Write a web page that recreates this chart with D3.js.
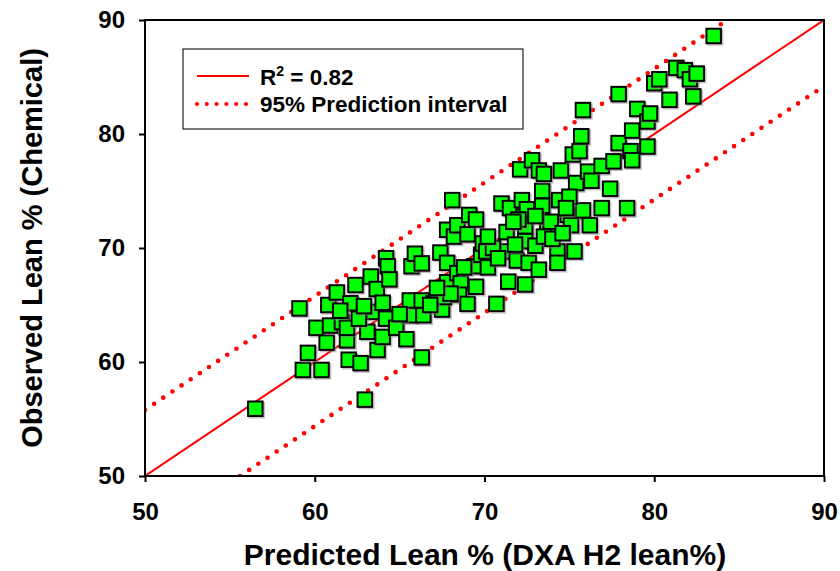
<!DOCTYPE html>
<html>
<head>
<meta charset="utf-8">
<script src="https://cdn.jsdelivr.net/npm/d3@7"></script>
<style>
  html, body { margin: 0; padding: 0; background: #fff; }
  svg { display: block; font-family: "Liberation Sans", Arial, sans-serif; }
</style>
</head>
<body>
<svg id="chart" width="840" height="571"></svg>
<script>
// ---- data ----
const predicted = [56.5,59.1,59.3,60.4,59.6,60.1,60.7,60.9,60.8,61.3,61.6,61.9,61.9,62.0,62.1,62.4,62.7,62.95,63.1,63.3,
  63.5,63.65,63.7,64.0,64.0,64.2,64.2,64.3,64.4,64.8,65.4,65.6,65.6,65.7,65.9,66.3,66.3,66.3,66.4,67.0,
  67.4,67.5,67.6,67.8,67.8,67.8,68.2,68.1,68.4,68.4,68.6,68.5,69.0,69.0,69.1,69.4,69.5,69.5,69.8,69.9,
  70.1,70.2,70.7,71.0,71.1,71.3,71.4,71.5,71.9,72.1,72.2,72.3,72.4,72.4,72.4,72.5,72.6,72.8,73.0,73.2,
  73.2,73.4,73.4,73.5,73.7,73.9,74.3,74.3,74.4,74.5,74.9,75.1,75.2,75.3,75.4,75.6,75.7,75.8,75.8,76.1,
  76.2,76.3,76.9,76.9,77.4,77.6,77.9,77.9,78.4,78.6,78.7,78.7,79.0,79.6,79.6,79.75,80.0,80.3,80.9,81.3,
  81.8,82.1,82.3,82.5,83.5,
  70.5,70.8,71.8,72.0,73.5,74.0,70.2,68.8,68.0,67.2,66.8,65.0,62.6,62.9,61.5,73.0,74.6,75.0,71.7,74.8];
const observed = [55.9,64.7,59.3,59.3,60.8,63.0,61.7,63.2,65.0,66.1,63.5,61.9,63.0,60.2,65.15,66.75,59.9,56.7,62.65,67.5,
  64.4,66.4,61.05,65.2,62.2,63.8,69.1,68.4,67.25,63.0,62.0,64.1,65.4,68.4,69.5,68.65,65.4,60.4,64.1,65.15,
  69.6,64.6,65.7,67.0,68.7,71.6,71.0,74.2,67.8,72.0,66.9,65.9,71.2,65.1,72.9,68.4,66.6,72.5,69.4,70.4,
  69.7,68.3,65.1,73.9,69.7,71.4,67.05,73.5,68.9,76.9,74.2,72.75,71.9,70.6,66.8,73.4,68.7,77.7,70.2,68.1,
  76.8,75.0,73.7,76.5,71.5,72.3,69.7,68.7,74.2,76.8,72.9,72.0,78.2,69.7,75.7,78.5,79.8,82.1,73.3,76.7,
  72.0,75.9,73.5,77.2,75.2,77.6,83.5,79.2,73.5,78.5,77.7,80.3,82.2,81.1,78.9,81.8,84.45,84.8,83.0,85.8,
  85.6,84.8,83.3,85.3,88.6,
  70.0,69.1,70.3,72.5,71.0,70.8,71.0,68.3,66.0,66.5,65.0,64.2,63.8,64.9,64.5,72.8,71.3,74.5,72.3,73.5];
const fitLine = [[50, 50], [90, 90]];
const upperPI = [[50, 55.8], [84.3, 90]];
const lowerPI = [[55.6, 50], [90, 84.2]];
const xTicks = [50, 60, 70, 80, 90];
const yTicks = [50, 60, 70, 80, 90];
const xTitle = "Predicted Lean % (DXA H2 lean%)";
const yTitle = "Observed Lean % (Chemical)";
const legendLabels = ["R", "95% Prediction interval"];

// ---- chart ----
const svg = d3.select("#chart");
const pLeft = 145, pRight = 824, pTop = 20, pBottom = 476;
const x = d3.scaleLinear().domain([50, 90]).range([pLeft, pRight]);
const y = d3.scaleLinear().domain([50, 90]).range([pBottom, pTop]);

svg.append("rect").attr("width", 840).attr("height", 571).attr("fill", "#fff");

const clip = svg.append("defs").append("clipPath").attr("id", "plotclip");
clip.append("rect").attr("x", pLeft).attr("y", pTop).attr("width", pRight - pLeft).attr("height", pBottom - pTop);

const line = d3.line().x(d => x(d[0])).y(d => y(d[1]));
const lines = svg.append("g").attr("clip-path", "url(#plotclip)");
lines.append("path").attr("d", line(fitLine)).attr("stroke", "#ff0000").attr("stroke-width", 2).attr("fill", "none");
[upperPI, lowerPI].forEach(seg => {
  lines.append("path").attr("d", line(seg)).attr("stroke", "#ff0000").attr("stroke-width", 4.6)
    .attr("stroke-linecap", "round").attr("stroke-dasharray", "0 11").attr("fill", "none");
});

// points
const pts = predicted.map((p, i) => [p, observed[i]]);
const s = 14.5;
const g = svg.append("g");
const pg = g.selectAll("g.pt").data(pts).enter().append("g").attr("class", "pt");
pg.append("rect")
  .attr("x", d => x(d[0]) - s / 2 + 1.5).attr("y", d => y(d[1]) - s / 2 + 1.5)
  .attr("width", s).attr("height", s).attr("fill", "#888").attr("opacity", 0.5)
  .attr("stroke", "#888").attr("stroke-width", 2);
pg.append("rect")
  .attr("x", d => x(d[0]) - s / 2).attr("y", d => y(d[1]) - s / 2)
  .attr("width", s).attr("height", s).attr("fill", "#00ff00")
  .attr("stroke", "#000").attr("stroke-width", 2);

// frame
svg.append("rect").attr("x", pLeft).attr("y", pTop).attr("width", pRight - pLeft).attr("height", pBottom - pTop)
  .attr("fill", "none").attr("stroke", "#000").attr("stroke-width", 2);

// axes
const xAxis = svg.append("g").attr("transform", `translate(0,${pBottom})`)
  .call(d3.axisBottom(x).tickValues(xTicks).tickSize(6).tickSizeOuter(0).tickPadding(21).tickFormat(d3.format("d")));
const yAxis = svg.append("g").attr("transform", `translate(${pLeft},0)`)
  .call(d3.axisLeft(y).tickValues(yTicks).tickSize(6).tickSizeOuter(0).tickPadding(14).tickFormat(d3.format("d")));
[xAxis, yAxis].forEach(a => {
  a.select(".domain").remove();
  a.selectAll(".tick line").attr("stroke", "#000").attr("stroke-width", 2);
  a.selectAll(".tick text").attr("fill", "#000").style("font-size", "24px").style("font-weight", "bold")
    .style("font-family", "'Liberation Sans', Arial, sans-serif");
});

// titles
svg.append("text").attr("x", 485).attr("y", 565).attr("text-anchor", "middle")
  .style("font-size", "30px").style("font-weight", "bold").text(xTitle);
svg.append("text").attr("transform", "translate(42,248) rotate(-90)").attr("text-anchor", "middle")
  .style("font-size", "29px").style("font-weight", "bold").text(yTitle);

// legend
const lg = svg.append("g");
lg.append("rect").attr("x", 183).attr("y", 49).attr("width", 340).attr("height", 80)
  .attr("fill", "#fff").attr("stroke", "#222").attr("stroke-width", 1.2);
lg.append("line").attr("x1", 197).attr("x2", 249).attr("y1", 76).attr("y2", 76)
  .attr("stroke", "#ff0000").attr("stroke-width", 2);
lg.append("line").attr("x1", 197).attr("x2", 247).attr("y1", 104).attr("y2", 104)
  .attr("stroke", "#ff0000").attr("stroke-width", 4.2).attr("stroke-linecap", "round").attr("stroke-dasharray", "0 9.8");
const t1 = lg.append("text").attr("x", 260).attr("y", 85).style("font-size", "22.5px").style("font-weight", "bold");
t1.append("tspan").text(legendLabels[0]);
t1.append("tspan").attr("dy", -9).style("font-size", "14px").text("2");
t1.append("tspan").attr("dy", 9).text(" = 0.82");
lg.append("text").attr("x", 260).attr("y", 112).style("font-size", "22.5px").style("font-weight", "bold")
  .text(legendLabels[1]);
</script>
</body>
</html>
